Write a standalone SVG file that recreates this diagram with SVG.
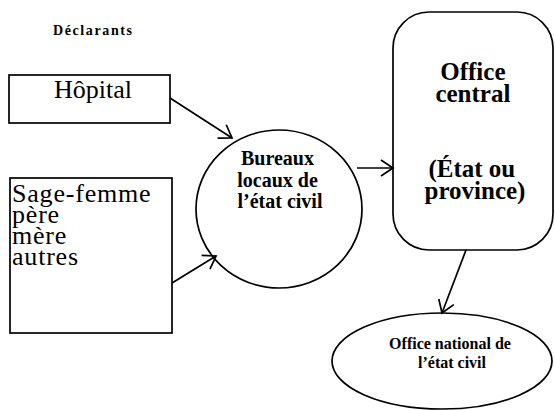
<svg xmlns="http://www.w3.org/2000/svg" width="555" height="410" viewBox="0 0 555 410">
  <style>
    .shape { fill: #ffffff; stroke: #000000; stroke-width: 1.7; }
    .link { fill: none; stroke: #000000; stroke-width: 1.7; }
    text { font-family: 'Liberation Serif', 'DejaVu Serif', serif; fill: #000000; }
    .b { font-weight: bold; }
  </style>
  <defs>
    <marker id="openArrow" markerUnits="userSpaceOnUse" markerWidth="30" markerHeight="30" refX="0" refY="0" viewBox="-15 -15 30 30" orient="auto" overflow="visible">
      <path d="M -12 -8 L 0 0 L -12 8" fill="none" stroke="#000000" stroke-width="1.7"/>
    </marker>
  </defs>

  <rect width="555" height="410" fill="#ffffff"/>

  <!-- heading for the left column -->
  <text class="b" x="53" y="35" font-size="14" textLength="79" lengthAdjust="spacing">Déclarants</text>

  <g id="hopital">
    <rect class="shape" x="9" y="75" width="161" height="48"/>
    <text x="93" y="98" font-size="26" text-anchor="middle">Hôpital</text>
  </g>

  <g id="autres-declarants">
    <rect class="shape" x="10" y="178" width="162" height="155"/>
    <text font-size="26" letter-spacing="0.8">
      <tspan x="12" y="202">Sage-femme</tspan>
      <tspan x="12" y="223">père</tspan>
      <tspan x="12" y="244">mère</tspan>
      <tspan x="12" y="265">autres</tspan>
    </text>
  </g>

  <g id="bureaux-locaux">
    <ellipse class="shape" cx="279" cy="209" rx="83" ry="79"/>
    <text class="b" font-size="20" text-anchor="middle">
      <tspan x="280" y="165">Bureaux</tspan>
      <tspan x="280" y="187">locaux de</tspan>
      <tspan x="280" y="208">l’état civil</tspan>
    </text>
  </g>

  <g id="office-central">
    <rect class="shape" x="393" y="12" width="160" height="238" rx="36" ry="36"/>
    <text class="b" font-size="25" text-anchor="middle">
      <tspan x="476" y="80">Office</tspan>
      <tspan x="476" y="102">central</tspan>
      <tspan x="475" y="177">(État ou</tspan>
      <tspan x="475" y="199">province)</tspan>
    </text>
  </g>

  <g id="office-national">
    <ellipse class="shape" cx="442" cy="361" rx="110" ry="48"/>
    <text class="b" font-size="16" text-anchor="middle">
      <tspan x="452" y="349">Office national de</tspan>
      <tspan x="452" y="368">l’état civil</tspan>
    </text>
  </g>

  <g id="connectors">
    <line class="link" x1="170" y1="98" x2="232" y2="138" marker-end="url(#openArrow)"/>
    <line class="link" x1="172" y1="283" x2="216" y2="256" marker-end="url(#openArrow)"/>
    <line class="link" x1="357" y1="168" x2="393" y2="168" marker-end="url(#openArrow)"/>
    <line class="link" x1="466" y1="250" x2="442" y2="313" marker-end="url(#openArrow)"/>
  </g>
</svg>
